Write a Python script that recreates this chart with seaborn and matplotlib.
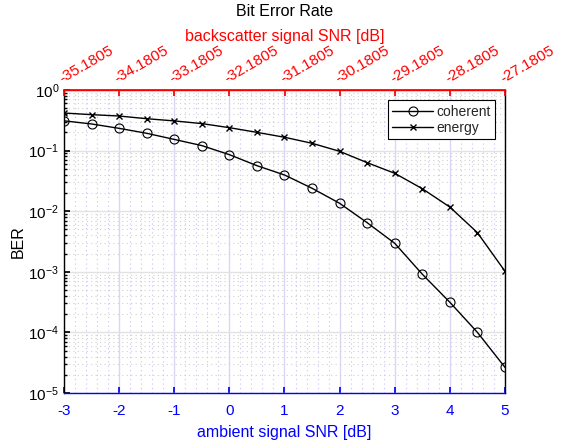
import numpy as np
import pandas as pd
import matplotlib
matplotlib.use("Agg")
import matplotlib.pyplot as plt
import seaborn as sns
from matplotlib.ticker import LogLocator, MultipleLocator, NullFormatter

snr_ambient = [-3, -2.5, -2, -1.5, -1, -0.5, 0, 0.5, 1, 1.5, 2, 2.5, 3, 3.5, 4, 4.5, 5]
ber_coherent = [0.31, 0.275, 0.233, 0.193, 0.153, 0.121, 0.0857, 0.0564, 0.0396,
                0.0239, 0.0135, 0.00646, 0.00295, 0.000912, 0.000314, 0.0001, 2.65e-5]
ber_energy = [0.417, 0.392, 0.372, 0.336, 0.309, 0.279, 0.239, 0.2, 0.166,
              0.132, 0.0973, 0.0632, 0.0422, 0.0235, 0.0117, 0.00442, 0.00102]
top_ticks = [-35.1805, -34.1805, -33.1805, -32.1805, -31.1805, -30.1805, -29.1805, -28.1805, -27.1805]
top_labels = ["-35.1805", "-34.1805", "-33.1805", "-32.1805", "-31.1805",
              "-30.1805", "-29.1805", "-28.1805", "-27.1805"]
bottom_ticks = [-3, -2, -1, 0, 1, 2, 3, 4, 5]

sns.set_theme(style="white")
plt.rcParams['font.family'] = ['Liberation Sans', 'DejaVu Sans']
plt.rcParams['mathtext.fontset'] = 'custom'
plt.rcParams['mathtext.rm'] = 'Liberation Sans'
plt.rcParams['mathtext.it'] = 'Liberation Sans'

fig = plt.figure(figsize=(5.62, 4.41), dpi=100)
ax = fig.add_axes([64/562, 1-393/441, (505-64)/562, (393-90)/441])

df = pd.DataFrame({"snr": snr_ambient * 2,
                   "ber": ber_coherent + ber_energy,
                   "scheme": ["coherent"] * len(snr_ambient) + ["energy"] * len(snr_ambient)})

sns.lineplot(data=df[df.scheme == "coherent"], x="snr", y="ber", ax=ax, color="black",
             marker="o", markersize=6.5, markerfacecolor="none", markeredgecolor="black",
             markeredgewidth=0.8, linewidth=1.0, label="coherent")
sns.lineplot(data=df[df.scheme == "energy"], x="snr", y="ber", ax=ax, color="black",
             marker="x", markersize=5, markeredgecolor="black", markeredgewidth=1.0,
             linewidth=1.0, label="energy")

ax.set_yscale("log")
ax.set_ylim(1e-5, 1)
ax.set_xlim(-3, 5)
ax.set_xticks(bottom_ticks)
ax.set_xticklabels([str(t) for t in bottom_ticks])
ax.xaxis.set_minor_locator(MultipleLocator(0.2))
ax.yaxis.set_major_locator(LogLocator(base=10, numticks=10))
ax.yaxis.set_minor_locator(LogLocator(base=10, subs=np.arange(2, 10), numticks=20))
ax.yaxis.set_minor_formatter(NullFormatter())

# grids
ax.grid(False)
ax.set_axisbelow(True)
ax.xaxis.grid(True, which="major", color="#d8d8f6", linewidth=1.0, linestyle="-")
ax.xaxis.grid(True, which="minor", color="#c4c4f0", linewidth=0.8, linestyle=(0, (1, 3)))
ax.yaxis.grid(True, which="major", color="#e2e2e2", linewidth=1.0, linestyle="-")
ax.yaxis.grid(True, which="minor", color="#d0d0d0", linewidth=0.8, linestyle=(0, (1, 3)))

ax.tick_params(axis="x", which="both", direction="in", colors="blue", labelsize=11,
               pad=8, top=False, bottom=True)
ax.tick_params(axis="x", which="major", length=4)
ax.tick_params(axis="x", which="minor", length=0)
ax.tick_params(axis="y", which="major", direction="in", length=4, colors="black",
               labelsize=11, left=True)
ax.tick_params(axis="y", which="minor", direction="in", length=2, colors="black", left=True)

for s in ["left", "right"]:
    ax.spines[s].set_color("black")
    ax.spines[s].set_linewidth(1.0)
ax.spines["bottom"].set_color("blue")
ax.spines["bottom"].set_linewidth(1.0)
ax.spines["top"].set_color("red")
ax.spines["top"].set_linewidth(1.0)

ax.set_xlabel("ambient signal SNR [dB]", color="blue", fontsize=11.5, labelpad=5)
ax.set_ylabel("BER", color="black", fontsize=11.5, labelpad=2)

leg = ax.legend(loc="upper right", bbox_to_anchor=(0.983, 0.975), fontsize=10,
                frameon=True, fancybox=False, edgecolor="black", framealpha=1,
                handlelength=3.0, borderpad=0.3, labelspacing=0.2, handletextpad=0.2,
                borderaxespad=0.2)
leg.get_frame().set_linewidth(0.8)

# top axis
ax2 = ax.twiny()
ax2.set_xlim(top_ticks[0], top_ticks[-1])
ax2.set_xticks(top_ticks)
ax2.set_xticklabels(top_labels, rotation=30, ha="left", va="bottom",
                    rotation_mode="anchor", color="red", fontsize=11)
ax2.tick_params(axis="x", which="major", direction="in", length=4, colors="red", pad=3)
ax2.spines["top"].set_color("red")
ax2.spines["bottom"].set_visible(False)
ax2.spines["left"].set_visible(False)
ax2.spines["right"].set_visible(False)
ax2.set_xlabel("backscatter signal SNR [dB]", color="red", fontsize=11.5, labelpad=2)
ax2.grid(False)

fig.text(0.5 * (64 + 505) / 562, 1 - 12/441, "Bit Error Rate", ha="center",
         va="center", fontsize=11.5, color="black")

fig.savefig("out.png", dpi=100)
